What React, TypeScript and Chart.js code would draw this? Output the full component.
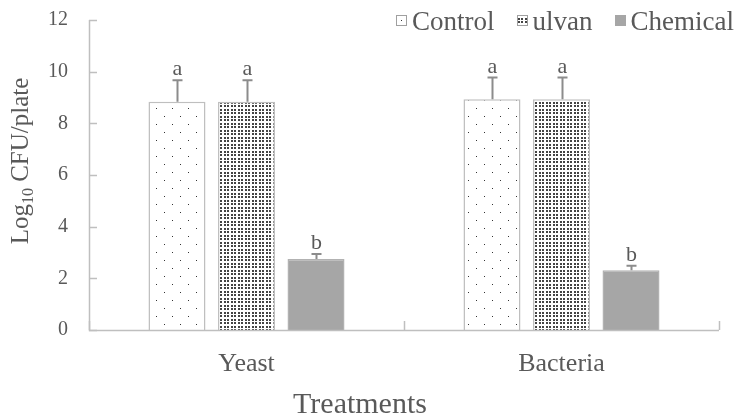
import React, { useEffect, useRef } from "react";
import { Chart, registerables } from "chart.js";

Chart.register(...registerables);

const categories = ["Yeast", "Bacteria"];
const seriesNames = ["Control", "ulvan", "Chemical"];
const controlValues = [8.84, 8.93];
const ulvanValues = [8.84, 8.93];
const chemicalValues = [2.75, 2.31];
const controlErrors = [0.83, 0.84];
const ulvanErrors = [0.83, 0.84];
const chemicalErrors = [0.19, 0.18];
const controlLetters = ["a", "a"];
const ulvanLetters = ["a", "a"];
const chemicalLetters = ["b", "b"];
const yMin = 0;
const yMax = 12;
const yStep = 2;
const xTitle = "Treatments";
const yTitleMain = "Log";
const yTitleSub = "10";
const yTitleRest = " CFU/plate";

const FONT = "'Liberation Serif', 'Times New Roman', serif";
const TEXT = "#595959";
const AXIS = "#bfbfbf";
const CHEM = "#a6a6a6";

function makeControlPattern(ctx: CanvasRenderingContext2D) {
  const c = document.createElement("canvas");
  c.width = 16;
  c.height = 16;
  const g = c.getContext("2d")!;
  g.fillStyle = "#ffffff";
  g.fillRect(0, 0, 16, 16);
  g.fillStyle = "#333333";
  g.fillRect(4, 4, 1, 1);
  g.fillRect(12, 12, 1, 1);
  return ctx.createPattern(c, "repeat")!;
}

function makeUlvanPattern(ctx: CanvasRenderingContext2D) {
  const c = document.createElement("canvas");
  c.width = 7;
  c.height = 7;
  const g = c.getContext("2d")!;
  g.fillStyle = "#ffffff";
  g.fillRect(0, 0, 7, 7);
  g.fillStyle = "#444444";
  [0, 3].forEach((x) => [0, 4].forEach((y) => g.fillRect(x, y, 2, 2)));
  return ctx.createPattern(c, "repeat")!;
}

const axesPlugin = {
  id: "axesPlugin",
  afterDatasetsDraw(chart: any) {
    const { ctx, chartArea } = chart;
    const { left, right, top, bottom } = chartArea;
    const ys = chart.scales.y;
    ctx.save();
    ctx.strokeStyle = AXIS;
    ctx.lineWidth = 1.5;
    ctx.beginPath();
    ctx.moveTo(left + 0.5, top);
    ctx.lineTo(left + 0.5, bottom + 0.5);
    ctx.lineTo(right, bottom + 0.5);
    ctx.stroke();
    ys.ticks.forEach((t: any) => {
      const y = Math.round(ys.getPixelForValue(t.value)) + 0.5;
      ctx.beginPath();
      ctx.moveTo(left, y);
      ctx.lineTo(left + 8, y);
      ctx.stroke();
    });
    const n = categories.length;
    for (let i = 0; i <= n; i++) {
      const x = Math.round(left + ((right - left) * i) / n) + 0.5;
      ctx.beginPath();
      ctx.moveTo(x, bottom);
      ctx.lineTo(x, bottom - 9);
      ctx.stroke();
    }
    ctx.restore();
  },
};

const errorPlugin = {
  id: "errorPlugin",
  afterDatasetsDraw(chart: any) {
    const { ctx } = chart;
    const ys = chart.scales.y;
    ctx.save();
    chart.data.datasets.forEach((ds: any, di: number) => {
      const meta = chart.getDatasetMeta(di);
      meta.data.forEach((bar: any, i: number) => {
        const v = ds.data[i];
        const e = ds.errors[i];
        const x = Math.round(bar.x) + 0.5;
        const yv = ys.getPixelForValue(v);
        const ye = ys.getPixelForValue(v + e);
        ctx.strokeStyle = "#8c8c8c";
        ctx.lineWidth = 2;
        ctx.beginPath();
        ctx.moveTo(x, yv);
        ctx.lineTo(x, ye);
        ctx.moveTo(x - 5, ye);
        ctx.lineTo(x + 5, ye);
        ctx.stroke();
        ctx.fillStyle = TEXT;
        ctx.font = `22px ${FONT}`;
        ctx.textAlign = "center";
        ctx.textBaseline = "alphabetic";
        ctx.fillText(ds.letters[i], x, ye - 5);
      });
    });
    ctx.restore();
  },
};

const textPlugin = {
  id: "textPlugin",
  afterDraw(chart: any) {
    const { ctx } = chart;
    ctx.save();
    ctx.fillStyle = TEXT;
    ctx.font = `30px ${FONT}`;
    ctx.textAlign = "center";
    ctx.textBaseline = "alphabetic";
    ctx.fillText(xTitle, 360, 413);

    const mainFont = `25px ${FONT}`;
    const subFont = `16px ${FONT}`;
    ctx.font = mainFont;
    const w1 = ctx.measureText(yTitleMain).width;
    const w3 = ctx.measureText(yTitleRest).width;
    ctx.font = subFont;
    const w2 = ctx.measureText(yTitleSub).width;
    const total = w1 + w2 + w3;
    ctx.translate(28, 161);
    ctx.rotate(-Math.PI / 2);
    ctx.textAlign = "left";
    let x = -total / 2;
    ctx.font = mainFont;
    ctx.fillText(yTitleMain, x, 0);
    x += w1;
    ctx.font = subFont;
    ctx.fillText(yTitleSub, x, 5);
    x += w2;
    ctx.font = mainFont;
    ctx.fillText(yTitleRest, x, 0);
    ctx.restore();

    ctx.save();
    ctx.font = `27px ${FONT}`;
    ctx.textBaseline = "alphabetic";
    ctx.textAlign = "left";
    const box = 10;
    const gapBox = 6;
    const gapItem = 22;
    const widths = seriesNames.map((s) => ctx.measureText(s).width);
    let xr = 734;
    const starts: number[] = [];
    for (let i = seriesNames.length - 1; i >= 0; i--) {
      xr -= widths[i];
      starts[i] = xr - gapBox - box;
      xr = starts[i] - gapItem;
    }
    seriesNames.forEach((name, i) => {
      const bx = Math.round(starts[i]) + 0.5;
      const by = 15.5;
      const ds = chart.data.datasets[i];
      if (i === 0) {
        ctx.fillStyle = "#ffffff";
        ctx.fillRect(bx, by, box, box);
        ctx.fillStyle = "#333333";
        ctx.fillRect(bx + 4.5, by + 4.5, 1, 1);
      } else {
        ctx.fillStyle = ds.backgroundColor;
        ctx.fillRect(bx, by, box, box);
      }
      ctx.strokeStyle = i === 2 ? CHEM : "#a0a0a0";
      ctx.lineWidth = 1;
      ctx.strokeRect(bx, by, box, box);
      ctx.fillStyle = TEXT;
      ctx.fillText(name, starts[i] + box + gapBox, 30);
    });
    ctx.restore();
  },
};

export default function App() {
  const ref = useRef<HTMLCanvasElement>(null);
  useEffect(() => {
    const canvas = ref.current!;
    const ctx = canvas.getContext("2d")!;
    const chart = new Chart(canvas, {
      type: "bar",
      data: {
        labels: categories,
        datasets: [
          {
            label: seriesNames[0],
            data: controlValues,
            errors: controlErrors,
            letters: controlLetters,
            backgroundColor: makeControlPattern(ctx),
            borderColor: AXIS,
            borderWidth: 1.5,
          } as any,
          {
            label: seriesNames[1],
            data: ulvanValues,
            errors: ulvanErrors,
            letters: ulvanLetters,
            backgroundColor: makeUlvanPattern(ctx),
            borderColor: AXIS,
            borderWidth: 1.5,
          } as any,
          {
            label: seriesNames[2],
            data: chemicalValues,
            errors: chemicalErrors,
            letters: chemicalLetters,
            backgroundColor: CHEM,
            borderColor: "#b2b2b2",
            borderWidth: 1.5,
          } as any,
        ],
      },
      options: {
        responsive: false,
        animation: false,
        devicePixelRatio: 1,
        categoryPercentage: 0.662,
        barPercentage: 0.82,
        layout: { padding: { left: 0, right: 20, top: 20, bottom: 0 } },
        plugins: { legend: { display: false }, tooltip: { enabled: false } },
        scales: {
          x: {
            grid: { display: false, drawTicks: false },
            border: { display: false },
            ticks: {
              color: TEXT,
              font: { family: FONT, size: 26 },
              padding: 19,
            },
            afterFit: (s: any) => {
              s.height = 87;
              s.paddingLeft = 0;
              s.paddingRight = 0;
            },
          },
          y: {
            min: yMin,
            max: yMax,
            grid: { display: false, drawTicks: false },
            border: { display: false },
            ticks: {
              stepSize: yStep,
              color: TEXT,
              font: { family: FONT, size: 20 },
              padding: 21,
            },
            afterFit: (s: any) => {
              s.width = 89;
              s.paddingTop = 0;
              s.paddingBottom = 0;
            },
          },
        },
      } as any,
      plugins: [axesPlugin, errorPlugin, textPlugin],
    });
    return () => chart.destroy();
  }, []);
  return (
    <div style={{ position: "absolute", left: 0, top: 0, width: 739, height: 417 }}>
      <canvas ref={ref} width={739} height={417} style={{ display: "block" }} />
    </div>
  );
}
